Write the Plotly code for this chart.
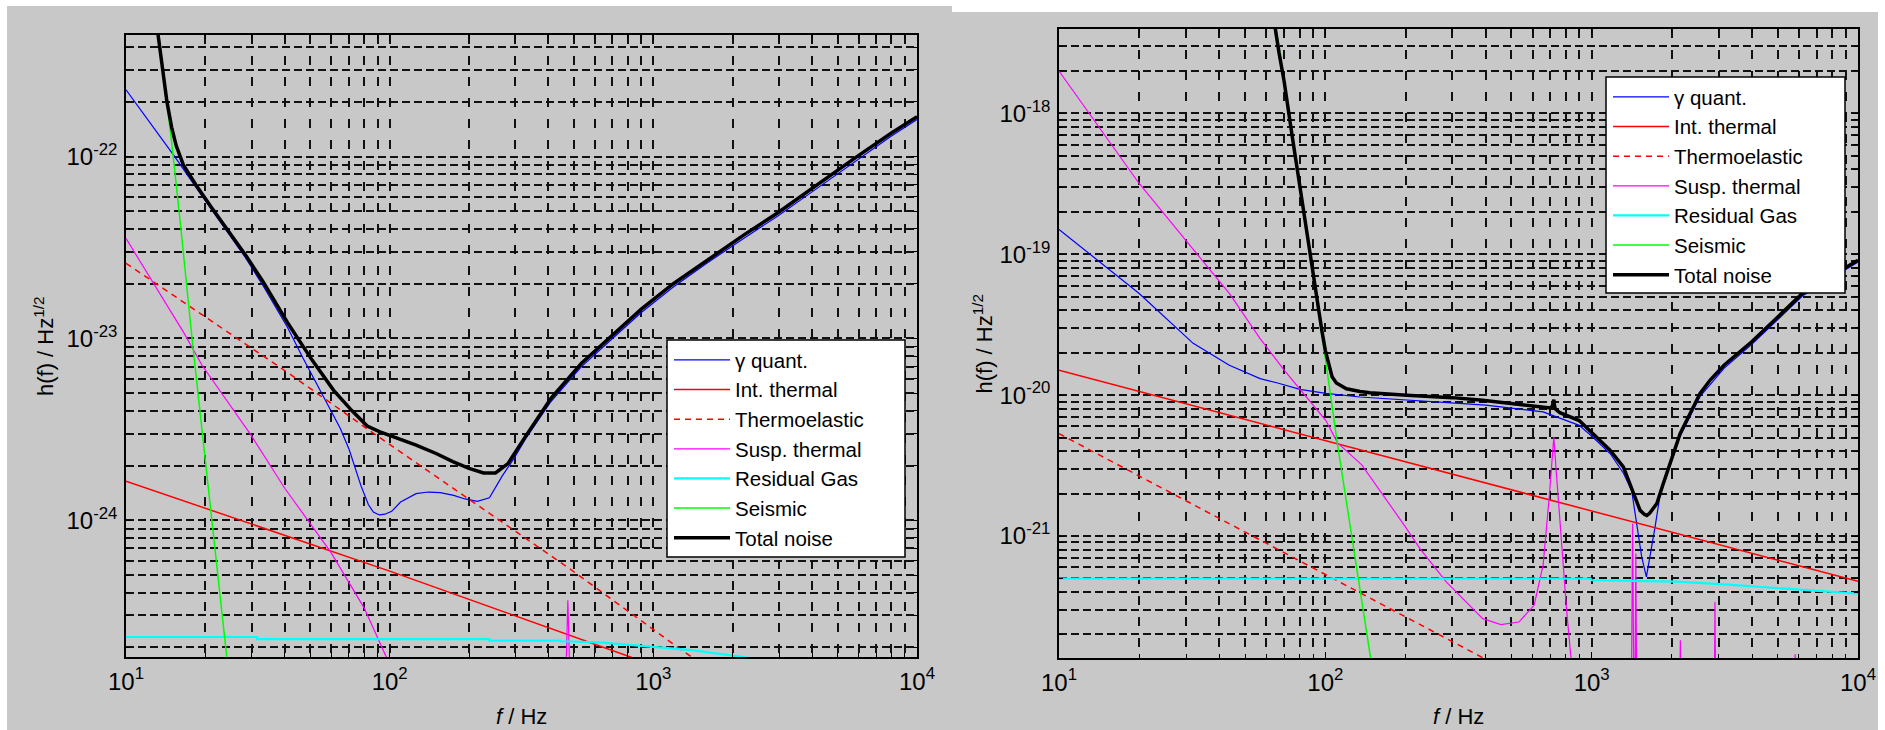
import plotly.graph_objects as go

# Legend labels, in drawing order (total noise last so it sits on top)
NAMES = ["γ quant.", "Int. thermal", "Thermoelastic", "Susp. thermal",
         "Residual Gas", "Seismic", "Total noise"]

# Decade tick marks and their labels
X_TICKS = [10, 100, 1000, 10000]
X_TICK_TEXT = ["10<sup>1</sup>", "10<sup>2</sup>", "10<sup>3</sup>", "10<sup>4</sup>"]
LEFT_Y_TICKS = [1e-24, 1e-23, 1e-22]
LEFT_Y_TICK_TEXT = ["10<sup>-24</sup>", "10<sup>-23</sup>", "10<sup>-22</sup>"]
RIGHT_Y_TICKS = [1e-21, 1e-20, 1e-19, 1e-18]
RIGHT_Y_TICK_TEXT = ["10<sup>-21</sup>", "10<sup>-20</sup>", "10<sup>-19</sup>",
                     "10<sup>-18</sup>"]

# ---------------- left detector: strain noise spectra ----------------
left_quant_f = [10, 12, 15.3, 18.4, 24, 28.3, 33.1, 41, 46.9, 52, 59.7, 65, 70.2, 77.8, 83,
                86.7, 91.4, 96, 101.8, 110, 126, 140, 155.5, 175, 193, 215, 239, 267, 297,
                330, 409, 534, 700, 900, 1191, 1600, 2200, 2957, 4000, 5918, 8000, 10000]
left_quant_h = [2.33e-22, 1.62e-22, 1.0e-22, 6.8e-23, 3.95e-23, 2.8e-23, 1.95e-23, 1.15e-23,
                7.8e-24, 5.9e-24, 4.1e-24, 3.2e-24, 2.45e-24, 1.55e-24, 1.22e-24, 1.11e-24,
                1.07e-24, 1.08e-24, 1.12e-24, 1.26e-24, 1.4e-24, 1.43e-24, 1.42e-24, 1.37e-24,
                1.31e-24, 1.27e-24, 1.33e-24, 1.75e-24, 2.2e-24, 2.85e-24, 4.5e-24, 7.0e-24,
                1.0e-23, 1.39e-23, 1.92e-23, 2.6e-23, 3.55e-23, 4.7e-23, 6.4e-23, 9.6e-23,
                1.3e-22, 1.6e-22]

left_int_f = [10, 102, 819, 1000]
left_int_h = [1.64e-24, 5.2e-25, 1.77e-25, 1.6e-25]

left_thermo_f = [10, 41, 88.8, 215, 480, 1256, 1500]
left_thermo_h = [2.59e-23, 6.5e-24, 2.94e-24, 1.21e-24, 5.43e-25, 1.97e-25, 1.65e-25]

left_susp_f = [10, 16.6, 19.4, 29.8, 40, 59.7, 80, 96.4, 110, 455, 467, 474, 481, 493]
left_susp_h = [3.55e-23, 1.07e-23, 7.14e-24, 2.94e-24, 1.5e-24, 6.7e-25, 3.3e-25, 1.81e-25,
               1.3e-25, 1.0e-25, 1.6e-25, 3.63e-25, 1.6e-25, 1.0e-25]

left_gas_f = [10, 31.4, 31.4, 239, 239, 443, 443, 627, 959, 1396, 2198, 2600]
left_gas_h = [2.28e-25, 2.28e-25, 2.22e-25, 2.22e-25, 2.18e-25, 2.18e-25, 2.16e-25, 2.13e-25,
              2.03e-25, 1.93e-25, 1.77e-25, 1.68e-25]

left_seis_f = [12.5, 13.3, 14.9, 16.0, 17.8, 20.0, 22.0, 24.2, 26.0]
left_seis_h = [1.3e-21, 4.7e-22, 1.2e-22, 4.6e-23, 1.0e-23, 2.1e-24, 6.3e-25, 1.7e-25, 6.5e-26]

left_total_f = [12.6, 13.2, 13.7, 14.3, 14.9, 15.5, 16.5, 18.4, 21, 24, 28.3, 33.1, 41, 50.8,
                61.2, 72, 82.2, 91.4, 105, 126, 150, 173.6, 200, 227, 252, 281, 330, 409, 534,
                700, 900, 1191, 1600, 2200, 2957, 4000, 5918, 8000, 10000]
left_total_h = [8.0e-22, 4.7e-22, 3.0e-22, 2.0e-22, 1.45e-22, 1.15e-22, 9.0e-23, 7.0e-23,
                5.3e-23, 4.05e-23, 2.9e-23, 2.05e-23, 1.22e-23, 7.6e-24, 5.2e-24, 4.0e-24,
                3.3e-24, 3.07e-24, 2.85e-24, 2.59e-24, 2.33e-24, 2.1e-24, 1.93e-24, 1.82e-24,
                1.82e-24, 2.05e-24, 2.94e-24, 4.68e-24, 7.3e-24, 1.04e-23, 1.45e-23, 2.0e-23,
                2.7e-23, 3.7e-23, 4.9e-23, 6.7e-23, 1.0e-22, 1.35e-22, 1.66e-22]

# ---------------- right detector: strain noise spectra ----------------
right_quant_f = [10, 20, 31.9, 43.6, 56.9, 66.2, 80.3, 100.5, 135, 232, 400, 657, 760, 898,
                 1014, 1172, 1315, 1413, 1476, 1541, 1605, 1656, 1729, 1806, 1969, 2148, 2553,
                 3139, 4000, 6180, 10000]
right_quant_h = [1.5e-19, 5.27e-20, 2.33e-20, 1.63e-20, 1.31e-20, 1.22e-20, 1.1e-20, 1.03e-20,
                 9.7e-21, 9.1e-21, 8.5e-21, 7.6e-21, 6.9e-21, 6.1e-21, 5.0e-21, 3.85e-21,
                 2.8e-21, 2.1e-21, 1.22e-21, 7.1e-22, 5.12e-22, 7.0e-22, 1.15e-21, 1.95e-21,
                 3.1e-21, 5.1e-21, 9.8e-21, 1.55e-20, 2.3e-20, 5.05e-20, 8.8e-20]

right_int_f = [10, 56.9, 111, 10000]
right_int_h = [1.5e-20, 6.28e-21, 4.5e-21, 4.77e-22]

right_thermo_f = [10, 60.3, 90.6, 370, 420]
right_thermo_h = [5.33e-21, 8.83e-22, 5.86e-22, 1.44e-22, 1.27e-22]

right_susp_f = [10, 20, 43.6, 56.9, 69.8, 80.3, 100.5, 111, 137, 198, 227, 285, 390, 456, 533,
                608, 657, 692, 710, 721, 735, 755, 780, 805, 835, 870, 1410, 1425, 1440, 1455,
                1465, 1475, 2140, 2153, 2166, 2888, 2904, 2920, 5780, 5806, 5832, 10000]
right_susp_h = [2.0e-18, 3.18e-19, 5.27e-20, 2.52e-20, 1.52e-20, 1.1e-20, 6.6e-21, 4.6e-21,
                3.2e-21, 1.19e-21, 8.1e-22, 4.71e-22, 2.59e-22, 2.35e-22, 2.45e-22, 3.22e-22,
                6.2e-22, 1.84e-21, 3.5e-21, 5.05e-21, 3.0e-21, 1.5e-21, 6.5e-22, 3.0e-22,
                1.4e-22, 1.0e-22, 8e-23, 1.22e-21, 8e-23, 8e-23, 7.5e-22, 8e-23, 8e-23,
                1.82e-22, 8e-23, 8e-23, 3.4e-22, 8e-23, 8e-23, 1.45e-22, 8e-23, 8e-23]

right_gas_f = [10, 990, 1000, 2084, 3043, 5715, 10000]
right_gas_h = [4.98e-22, 4.98e-22, 4.85e-22, 4.75e-22, 4.55e-22, 4.2e-22, 3.9e-22]

right_seis_f = [60, 64, 70, 80, 90, 100, 111, 132.4, 147.2, 155]
right_seis_h = [1.19e-17, 5.26e-18, 1.69e-18, 3.1e-19, 6.9e-20, 1.82e-20, 4.53e-21, 4.98e-22,
                1.38e-22, 7.7e-23]

right_total_f = [63.5, 64.6, 67, 70, 75, 81.7, 90, 97, 100, 103, 106, 110, 120, 135, 147, 202,
                 300, 390, 500, 657, 700, 712, 718, 721, 724, 730, 760, 898, 1014, 1172, 1315,
                 1440, 1520, 1580, 1611, 1650, 1700, 1757, 1850, 1969, 2148, 2553, 2786, 3139,
                 4000, 6180, 10000]
right_total_h = [5.5e-18, 4.2e-18, 2.7e-18, 1.7e-18, 7.0e-19, 2.4e-19, 7.0e-20, 2.89e-20,
                 2.08e-20, 1.65e-20, 1.35e-20, 1.22e-20, 1.11e-20, 1.06e-20, 1.04e-20, 1.0e-20,
                 9.6e-21, 9.2e-21, 8.7e-21, 8.25e-21, 8.1e-21, 8.4e-21, 9.0e-21, 9.3e-21,
                 8.6e-21, 8.0e-21, 7.5e-21, 6.6e-21, 5.3e-21, 4.06e-21, 3.09e-21, 2.0e-21,
                 1.52e-21, 1.42e-21, 1.40e-21, 1.45e-21, 1.55e-21, 1.7e-21, 2.3e-21, 3.27e-21,
                 5.33e-21, 1.03e-20, 1.28e-20, 1.63e-20, 2.4e-20, 5.27e-20, 9.08e-20]

left_series = [(left_quant_f, left_quant_h), (left_int_f, left_int_h),
               (left_thermo_f, left_thermo_h), (left_susp_f, left_susp_h),
               (left_gas_f, left_gas_h), (left_seis_f, left_seis_h),
               (left_total_f, left_total_h)]
right_series = [(right_quant_f, right_quant_h), (right_int_f, right_int_h),
                (right_thermo_f, right_thermo_h), (right_susp_f, right_susp_h),
                (right_gas_f, right_gas_h), (right_seis_f, right_seis_h),
                (right_total_f, right_total_h)]

# Axis limits (log10 units)
X_RANGE = [1, 4]
LEFT_Y_RANGE = [-24.752, -21.331]
RIGHT_Y_RANGE = [-21.866, -17.401]

# ---------------- styling ----------------
W, H = 1885, 730
LINE_STYLES = [
    dict(color="#0000ff", width=1.2),
    dict(color="#ff0000", width=1.5),
    dict(color="#ff0000", width=1.5, dash="6px,5px"),
    dict(color="#ff00ff", width=1.2),
    dict(color="#00ffff", width=2.2),
    dict(color="#00ff00", width=1.5),
    dict(color="#000000", width=3.5),
]
FONT = "Liberation Sans, Arial, Helvetica, sans-serif"
GRAY = "#c8c8c8"
GRID = "#111111"

fig = go.Figure()
for series, xa, ya, leg in ((left_series, "x", "y", "legend"),
                            (right_series, "x2", "y2", "legend2")):
    for name, (f, h), style in zip(NAMES, series, LINE_STYLES):
        fig.add_trace(go.Scatter(x=f, y=h, mode="lines", name=name, line=style,
                                 xaxis=xa, yaxis=ya, legend=leg, hoverinfo="skip"))


def make_axis(kind, domain, rng, anchor, tickvals, ticktext):
    dash = "9px,12px" if kind == "x" else "8px,4px"
    return dict(
        type="log", domain=domain, range=rng, anchor=anchor, automargin=False,
        showline=True, linecolor="black", linewidth=1.5, mirror="allticks",
        ticks="inside", ticklen=6, tickcolor="black", ticklabelstandoff=2,
        showgrid=True, gridcolor=GRID, gridwidth=1.5, griddash=dash,
        zeroline=False, tickmode="array", tickvals=tickvals, ticktext=ticktext,
        tickfont=dict(family=FONT, size=24, color="black"),
        minor=dict(dtick="D1", showgrid=True, gridcolor=GRID, gridwidth=1.5,
                   griddash=dash, ticks="inside", ticklen=4, tickcolor="black"),
    )


left_x_dom = [126 / W, 917 / W]
right_x_dom = [1059 / W, 1858 / W]
left_y_dom = [1 - 657 / H, 1 - 35 / H]
right_y_dom = [1 - 658 / H, 1 - 29 / H]

# Legend frames (px: left, top, right, bottom) drawn as opaque boxes under the legend text
LEGEND_BOXES = [(667, 340, 905, 557), (1606, 77, 1845, 293)]

legend_style = dict(xanchor="left", yanchor="top", bgcolor="rgba(0,0,0,0)",
                    borderwidth=0, font=dict(family=FONT, size=20.5, color="black"),
                    itemwidth=56, tracegroupgap=0)

title_font = dict(family=FONT, size=22, color="black")
annotations = []
for xdom, ydom, ylab_x in ((left_x_dom, left_y_dom, 44), (right_x_dom, right_y_dom, 982)):
    annotations.append(dict(text="<i>f</i> / Hz", xref="paper", yref="paper",
                            x=sum(xdom) / 2, y=1 - 716 / H, xanchor="center",
                            yanchor="middle", showarrow=False, font=title_font))
    annotations.append(dict(text="h(f) / Hz<sup>1/2</sup>", xref="paper", yref="paper",
                            x=ylab_x / W, y=sum(ydom) / 2, xanchor="center",
                            yanchor="middle", textangle=-90, showarrow=False,
                            font=title_font))

shapes = [
    dict(type="rect", xref="paper", yref="paper", x0=7 / W, x1=952 / W,
         y0=0, y1=1 - 6 / H, fillcolor=GRAY, line=dict(width=0), layer="below"),
    dict(type="rect", xref="paper", yref="paper", x0=952 / W, x1=1878 / W,
         y0=0, y1=1 - 12 / H, fillcolor=GRAY, line=dict(width=0), layer="below"),
]
for (l, t, r, b) in LEGEND_BOXES:
    shapes.append(dict(type="rect", xref="paper", yref="paper", x0=l / W, x1=r / W,
                       y0=1 - b / H, y1=1 - t / H, fillcolor="white",
                       line=dict(color="black", width=1.5), layer="above"))

fig.update_layout(
    template="none",
    width=W, height=H, margin=dict(l=0, r=0, t=0, b=0, autoexpand=False),
    paper_bgcolor="white", plot_bgcolor="white",
    font=dict(family=FONT, size=22, color="black"),
    xaxis=make_axis("x", left_x_dom, X_RANGE, "y", X_TICKS, X_TICK_TEXT),
    yaxis=make_axis("y", left_y_dom, LEFT_Y_RANGE, "x", LEFT_Y_TICKS, LEFT_Y_TICK_TEXT),
    xaxis2=make_axis("x", right_x_dom, X_RANGE, "y2", X_TICKS, X_TICK_TEXT),
    yaxis2=make_axis("y", right_y_dom, RIGHT_Y_RANGE, "x2", RIGHT_Y_TICKS, RIGHT_Y_TICK_TEXT),
    legend=dict(x=669 / W, y=1 - 340 / H, **legend_style),
    legend2=dict(x=1608 / W, y=1 - 77 / H, **legend_style),
    shapes=shapes,
    annotations=annotations,
    showlegend=True,
)

fig.write_html("out.html")
